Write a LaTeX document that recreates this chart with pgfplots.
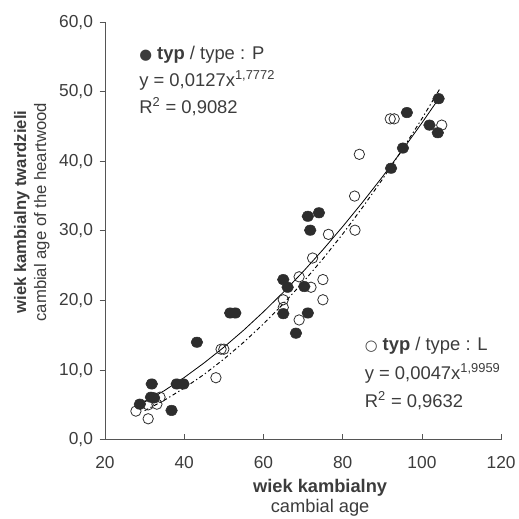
\documentclass[border=0pt]{standalone}
\usepackage{pgfplots}
\pgfplotsset{compat=1.18}
\usepackage{fontspec}
\setmainfont{Liberation Sans}
\newfontfamily\symfont{DejaVu Sans}
\definecolor{txt}{RGB}{60,60,60}
\definecolor{axc}{RGB}{85,85,85}
\definecolor{dot}{RGB}{45,45,45}

\begin{document}
\begin{tikzpicture}
\begin{axis}[
  scale only axis,
  width=297pt, height=313pt,
  xmin=20, xmax=120, ymin=0, ymax=60,
  axis x line*=bottom, axis y line*=left,
  axis line style={axc, line width=0.6pt},
  xtick={20,40,...,120}, ytick={0,10,...,60},
  tick align=outside, major tick length=4pt,
  tick style={axc, line width=0.6pt},
  x tick style={yshift=4pt},
  minor tick num=0,
  /pgf/number format/assume math mode=true,
  ticklabel style={font=\fontsize{13}{15}\selectfont, text=txt},
  x tick label style={yshift=-5pt},
  yticklabel style={xshift=-1.5pt, /pgf/number format/.cd, fixed, fixed zerofill, precision=1, use comma},
  xlabel={{\bfseries wiek kambialny}\\cambial age},
  xlabel style={font=\fontsize{13.7}{15}\selectfont, text=txt, align=center,
    at={(axis description cs:0.543,-0.094)}, anchor=north, inner sep=0pt},
  ylabel={{\bfseries wiek kambialny twardzieli}\\cambial age of the heartwood},
  ylabel style={font=\fontsize{12.5}{15}\selectfont, text=txt, align=center,
    at={(axis description cs:-0.139,0.545)}, anchor=south, inner sep=0pt},
  clip=false,
]
% typ P (filled)
\addplot[only marks, mark=*, mark size=3.9pt, mark options={fill=dot, draw=dot, xscale=1.12}]
coordinates {
(104.2,49.0) (96.2,47.0) (101.9,45.2) (104.0,44.1) (95.2,41.9) (92.2,39.0)
(71.2,32.1) (74.0,32.6) (71.8,30.1) (65.0,23.0) (66.1,21.9) (70.3,22.0)
(65.0,18.1) (71.2,18.2) (68.2,15.3) (51.6,18.2) (52.9,18.2) (43.2,14.0)
(31.8,8.0) (38.1,8.0) (39.8,8.0) (31.6,6.1) (32.4,6.0) (28.8,5.1) (36.8,4.2)
};
% typ L (open)
\addplot[only marks, mark=o, mark size=3.9pt, mark options={draw=dot, line width=0.6pt, fill=white}]
coordinates {
(105.0,45.2) (92.0,46.1) (93.0,46.1) (84.2,41.0) (83.0,35.0) (83.1,30.1)
(76.4,29.5) (72.4,26.1) (69.0,23.4) (75.0,23.0) (72.0,21.9) (65.0,20.1)
(65.0,19.0) (75.0,20.1) (69.0,17.2) (49.3,13.0) (50.0,13.0) (48.0,8.9)
(33.9,6.1) (33.1,5.1) (30.9,5.0) (27.8,4.1) (30.9,3.0)
};
% trend P
\addplot[black, line width=0.6pt] coordinates {
(28,4.74) (35,7.05) (40,8.93) (45,11.02) (50,13.28) (55,15.73) (60,18.37)
(65,21.17) (70,24.14) (75,27.29) (80,30.62) (85,34.11) (90,37.75)
(95,41.56) (100,45.52) (104.6,49.3)
};
% trend L
\addplot[black, line width=0.7pt, dash pattern=on 3pt off 2pt on 1pt off 2pt] coordinates {
(30,4.17) (35,5.67) (40,7.42) (45,9.37) (50,11.57) (55,13.99) (60,16.64)
(65,19.52) (70,22.63) (75,25.98) (80,29.55) (85,33.37) (90,37.39)
(95,41.65) (100,46.13) (104.5,50.4)
};
\node[anchor=north west, inner sep=0pt, align=left, text=txt,
  font=\fontsize{13.8}{20}\selectfont] at (rel axis cs:0.086,0.942)
  {{\symfont\fontsize{11}{11}\selectfont ●} \textbf{typ} / type : P\\
   y = 0,0127x\textsuperscript{1,7772}\\
   R\textsuperscript{2} = 0,9082};
\node[anchor=north west, inner sep=0pt, align=left, text=txt,
  font=\fontsize{13.8}{21.5}\selectfont] at (rel axis cs:0.655,0.246)
  {{\symfont\fontsize{11}{11}\selectfont ○} \textbf{typ} / type : L\\
   y = 0,0047x\textsuperscript{1,9959}\\
   R\textsuperscript{2} = 0,9632};
\coordinate (bl) at (rel axis cs:-0.265,-0.188);
\coordinate (tr) at (rel axis cs:1.045,1.053);
\end{axis}
\pgfresetboundingbox
\path[use as bounding box] (bl) rectangle (tr);
\end{tikzpicture}
\end{document}
